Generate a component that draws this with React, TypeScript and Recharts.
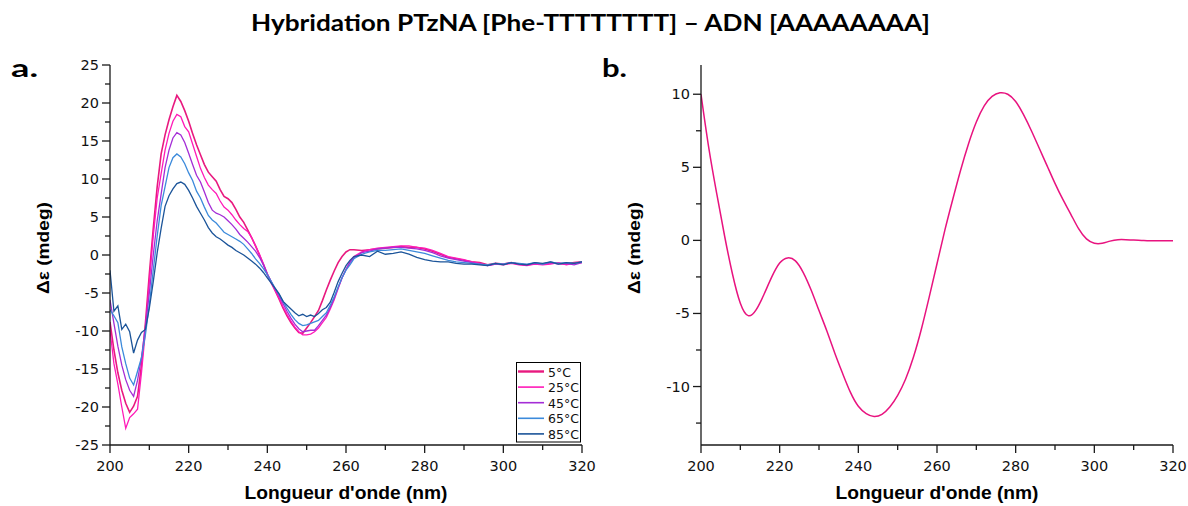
import { LineChart, Line, XAxis, YAxis, Legend } from 'recharts';

// wavelengths (nm) of the temperature scans: 1 nm up to 262, then 2 nm
const WAVELENGTHS = [
  200, 201, 202, 203, 204, 205, 206, 207, 208, 209,
  210, 211, 212, 213, 214, 215, 216, 217, 218, 219,
  220, 221, 222, 223, 224, 225, 226, 227, 228, 229,
  230, 231, 232, 233, 234, 235, 236, 237, 238, 239,
  240, 241, 242, 243, 244, 245, 246, 247, 248, 249,
  250, 251, 252, 253, 254, 255, 256, 257, 258, 259,
  260, 261, 262,
  264, 266, 268, 270, 272, 274, 276, 278, 280, 282,
  284, 286, 288, 290, 292, 294, 296, 298, 300, 302,
  304, 306, 308, 310, 312, 314, 316, 318, 320,
];

const CD_5C = [
  -8.8, -12.5, -15.5, -17.8, -19.5, -20.7, -19.9, -18.6, -14.5, -9.0,
  -2.5, 3.5, 9.0, 13.3, 15.8, 17.8, 19.5, 21.0, 20.2, 19.0,
  17.6, 16.0, 14.5, 13.2, 11.9, 10.9, 10.3, 9.7, 8.6, 7.7,
  7.4, 6.9, 6.0, 5.0, 4.3, 3.3, 2.3, 1.2, 0.0, -1.2,
  -2.5, -3.6, -4.7, -5.8, -7.0, -8.0, -8.9, -9.6, -10.2, -10.3,
  -9.6, -8.9, -8.1, -7.3, -6.0, -4.6, -3.3, -2.1, -1.0, -0.2,
  0.4, 0.7, 0.7,
  0.6, 0.7, 0.8, 0.9, 1.0, 1.1, 1.0, 1.0, 0.8, 0.5,
  0.1, -0.3, -0.5, -0.7, -0.9, -1.0, -1.3, -1.1, -1.2, -1.0,
  -1.2, -1.3, -1.1, -1.2, -1.0, -1.1, -1.2, -1.0, -0.9,
];

const CD_25C = [
  -9.9, -14.3, -17.0, -20.0, -22.8, -21.4, -20.9, -20.3, -15.5, -10.0,
  -3.5, 2.5, 7.5, 10.7, 13.8, 16.0, 17.6, 18.5, 18.2, 16.9,
  16.2, 14.6, 13.0, 11.4, 10.2, 9.2, 8.6, 8.1, 7.1, 6.3,
  5.9, 5.3, 4.6, 4.0, 3.5, 3.1, 2.3, 1.2, 0.1, -1.2,
  -2.6, -3.7, -4.7, -5.7, -6.8, -7.8, -8.7, -9.5, -10.1, -10.5,
  -10.5, -10.4, -10.1, -9.6, -8.9, -8.2, -7.1, -5.9, -4.4, -3.0,
  -1.9, -0.9, -0.2,
  0.4, 0.7, 0.9, 1.0, 1.1, 1.2, 1.2, 1.0, 0.9, 0.6,
  0.2, -0.2, -0.4, -0.6, -0.9, -1.1, -1.4, -1.2, -1.3, -1.1,
  -1.3, -1.4, -1.2, -1.3, -1.2, -1.0, -1.3, -1.1, -1.0,
];

const CD_45C = [
  -5.9, -9.0, -12.0, -14.5, -16.4, -17.8, -18.6, -16.5, -13.5, -9.5,
  -5.0, 0.0, 4.5, 8.0, 11.5, 13.8, 15.4, 16.1, 15.8, 14.8,
  13.4, 11.9, 10.5, 9.6, 8.3, 6.9, 5.9, 5.5, 5.3, 5.0,
  4.5, 4.0, 3.4, 2.7, 2.2, 1.7, 1.1, 0.5, -0.3, -1.3,
  -2.5, -3.5, -4.5, -5.4, -6.4, -7.4, -8.3, -9.1, -9.7, -10.1,
  -10.0, -9.9, -9.9, -9.3, -8.6, -7.9, -6.9, -5.7, -4.3, -3.0,
  -1.9, -1.0, -0.4,
  0.3, 0.5, 0.8, 0.9, 1.0, 1.0, 0.9, 0.8, 0.6, 0.3,
  -0.1, -0.4, -0.6, -0.8, -1.0, -1.2, -1.4, -1.2, -1.2, -1.0,
  -1.2, -1.3, -1.1, -1.2, -1.0, -1.2, -1.1, -1.3, -1.0,
];

const CD_65C = [
  -7.2, -8.0, -8.9, -12.1, -14.3, -16.2, -17.1, -15.3, -13.5, -10.5,
  -6.5, -2.0, 2.5, 6.5, 9.0, 11.5, 12.8, 13.3, 12.9, 12.0,
  10.8, 9.8, 8.4, 7.5, 6.3, 5.2, 4.6, 4.2, 3.6, 3.0,
  2.7, 2.4, 2.1, 1.8, 1.4, 0.8, 0.2, -0.5, -1.1, -1.8,
  -2.6, -3.5, -4.4, -5.2, -6.1, -7.0, -7.8, -8.5, -9.0, -9.3,
  -9.2, -9.0, -8.8, -8.6, -8.1, -7.6, -6.6, -5.5, -4.2, -3.0,
  -2.0, -1.3, -0.5,
  0.1, 0.4, 0.6, 0.6, 0.7, 0.8, 0.6, 0.4, 0.2, -0.1,
  -0.4, -0.7, -0.9, -1.0, -1.1, -1.2, -1.3, -1.1, -1.2, -1.0,
  -1.1, -1.2, -1.0, -1.2, -0.9, -1.1, -1.0, -1.1, -0.9,
];

const CD_85C = [
  -2.0, -7.4, -6.7, -9.8, -9.1, -10.1, -12.9, -11.2, -10.2, -9.8,
  -7.0, -3.5, 0.3, 3.5, 6.4, 7.8, 8.7, 9.4, 9.6, 9.3,
  8.5, 7.5, 6.4, 5.5, 4.6, 3.6, 2.9, 2.4, 2.1, 1.7,
  1.3, 1.0, 0.6, 0.3, 0.0, -0.4, -0.8, -1.2, -1.7, -2.3,
  -3.0, -3.7, -4.4, -5.1, -6.1, -6.6, -7.1, -7.6, -8.0, -7.8,
  -8.1, -7.9, -8.1, -7.7, -7.2, -6.9, -6.2, -4.9, -3.5, -2.4,
  -1.4, -0.7, -0.2,
  0.0, -0.2, 0.5, 0.1, 0.2, 0.4, 0.1, -0.3, -0.6, -0.8,
  -0.9, -0.9, -1.1, -1.2, -1.2, -1.3, -1.4, -1.1, -1.3, -1.0,
  -1.2, -1.3, -1.0, -1.1, -0.9, -1.2, -1.0, -1.1, -0.9,
];

// panel b: calculated spectrum
const WAVELENGTHS_B = [
  200, 202, 204, 206, 208, 210, 212, 214, 216, 218,
  220, 222, 224, 226, 228, 230, 232, 234, 236, 238,
  240, 242, 244, 246, 248, 250, 252, 254, 256, 258,
  260, 262, 264, 266, 268, 270, 272, 274, 276, 278,
  280, 282, 284, 286, 288, 290, 292, 294, 296, 298,
  300, 302, 304, 306, 308, 310, 312, 314, 316, 318, 320,
];
const CD_B = [
  10.0, 6.3, 3.2, 0.3, -2.3, -4.3, -5.15, -4.75, -3.7, -2.5,
  -1.55, -1.2, -1.4, -2.2, -3.4, -4.8, -6.2, -7.7, -9.1, -10.4,
  -11.35, -11.85, -12.05, -11.9, -11.4, -10.6, -9.5, -8.0, -6.1, -3.9,
  -1.6, 0.7, 2.8, 4.8, 6.6, 8.1, 9.2, 9.85, 10.1, 10.0,
  9.5, 8.6, 7.5, 6.3, 5.1, 3.9, 2.8, 1.8, 0.8, 0.1,
  -0.2, -0.2, -0.05, 0.05, 0.05, 0.02, 0.0, -0.02, -0.02, -0.02, -0.02,
];

const X_TICKS = [200, 210, 220, 230, 240, 250, 260, 270, 280, 290, 300, 310, 320];
const Y_TICKS_A = [
  -25, -22.5, -20, -17.5, -15, -12.5, -10, -7.5, -5, -2.5, 0,
  2.5, 5, 7.5, 10, 12.5, 15, 17.5, 20, 22.5, 25,
];
const Y_TICKS_B = [-12.5, -10, -7.5, -5, -2.5, 0, 2.5, 5, 7.5, 10];

const SERIES = [
  { key: 't5', name: '5°C', color: '#E8197F', width: 1.6, values: CD_5C },
  { key: 't25', name: '25°C', color: '#FF1AB8', width: 1.3, values: CD_25C },
  { key: 't45', name: '45°C', color: '#A42DD6', width: 1.3, values: CD_45C },
  { key: 't65', name: '65°C', color: '#3C8ADB', width: 1.3, values: CD_65C },
  { key: 't85', name: '85°C', color: '#1B5499', width: 1.3, values: CD_85C },
];

const dataA = WAVELENGTHS.map((wl, i) => {
  const row: Record<string, number> = { wl };
  SERIES.forEach((s) => { row[s.key] = s.values[i]; });
  return row;
});
const dataB = WAVELENGTHS_B.map((wl, i) => ({ wl, cd: CD_B[i] }));

const AXIS_DARK = '#1a1a1a';
const AXIS_GREY = '#555';
const TICK_FONT = { fontFamily: '"DejaVu Sans", sans-serif', fontSize: 14.5, fill: '#111' };
const TITLE_FONT = { fontFamily: '"Liberation Sans", Arial, sans-serif', fontWeight: 700, fill: '#000' };

const isMultiple = (v: number, step: number) => Math.abs(v / step - Math.round(v / step)) < 1e-6;

// custom ticks: axes use tickSize 0, so (x, y) sits on the axis line
const BottomTick = ({ x, y, payload }: any) => {
  const major = isMultiple(payload.value, 20);
  return (
    <g>
      <line x1={x} x2={x} y1={y} y2={y + (major ? 8 : 5)} stroke={AXIS_DARK} strokeWidth={1.3} />
      {major && (
        <text x={x} y={y + 26} textAnchor="middle" {...TICK_FONT}>{payload.value}</text>
      )}
    </g>
  );
};

const TopTick = ({ x, y, payload }: any) => {
  const major = isMultiple(payload.value, 20);
  return <line x1={x} x2={x} y1={y} y2={y + (major ? 7 : 4)} stroke={AXIS_GREY} strokeWidth={1.2} />;
};

const LeftTick = ({ x, y, payload }: any) => {
  const major = isMultiple(payload.value, 5);
  return (
    <g>
      <line x1={x} x2={x - (major ? 8 : 5)} y1={y} y2={y} stroke={AXIS_DARK} strokeWidth={1.3} />
      {major && (
        <text x={x - 11} y={y + 5} textAnchor="end" {...TICK_FONT}>{payload.value}</text>
      )}
    </g>
  );
};

const RightTick = ({ x, y, payload }: any) => {
  const major = isMultiple(payload.value, 5);
  return <line x1={x} x2={x - (major ? 7 : 6)} y1={y} y2={y} stroke={AXIS_GREY} strokeWidth={1.2} />;
};

const XTitle = ({ viewBox }: any) => (
  <text
    x={viewBox.x + viewBox.width / 2}
    y={viewBox.y + 54}
    textAnchor="middle"
    fontSize={18}
    textLength={203}
    lengthAdjust="spacingAndGlyphs"
    {...TITLE_FONT}
  >
    Longueur d'onde (nm)
  </text>
);

const YTitle = ({ viewBox }: any) => {
  const cx = viewBox.x + 9;
  const cy = viewBox.y + viewBox.height / 2 - 7;
  return (
    <text
      x={cx}
      y={cy}
      transform={`rotate(-90 ${cx} ${cy})`}
      textAnchor="middle"
      fontSize={17}
      textLength={92}
      lengthAdjust="spacingAndGlyphs"
      {...TITLE_FONT}
    >
      Δε (mdeg)
    </text>
  );
};

const LegendBox = ({ payload }: any) => {
  const items = [...(payload || [])].sort(
    (a: any, b: any) =>
      SERIES.findIndex((s) => s.name === a.value) - SERIES.findIndex((s) => s.name === b.value)
  );
  return (
    <svg width={66} height={82} style={{ display: 'block' }}>
      <rect x={0.5} y={0.5} width={64} height={79.5} fill="#fff" stroke="#000" strokeWidth={1} />
      {items.map((p: any, i: number) => {
        const cy = 9.5 + i * 15.6;
        const s = SERIES.find((d) => d.name === p.value);
        return (
          <g key={p.value}>
            <line x1={2} x2={28} y1={cy} y2={cy} stroke={p.color} strokeWidth={s && s.key === 't5' ? 2.4 : 1.6} />
            <text x={32} y={cy + 5} fontFamily='"DejaVu Sans", sans-serif' fontSize={12.5} fill="#111">
              {p.value}
            </text>
          </g>
        );
      })}
    </svg>
  );
};

const axisLineDark = { stroke: AXIS_DARK, strokeWidth: 1.3 };
const axisLineGrey = { stroke: AXIS_GREY, strokeWidth: 1.6 };

export default function App() {
  return (
    <div style={{ position: 'absolute', left: 0, top: 0, width: 1188, height: 506, background: '#fff', overflow: 'hidden' }}>
      {/* panel a: temperature series */}
      <div style={{ position: 'absolute', left: 0, top: 40 }}>
        <LineChart width={604} height={466} data={dataA} margin={{ top: 25, right: 22, bottom: 1, left: 40 }}>
          <XAxis
            dataKey="wl" type="number" domain={[200, 320]} allowDataOverflow
            ticks={X_TICKS} interval={0} tick={BottomTick} tickLine={false} tickSize={0} tickMargin={0}
            height={60} axisLine={axisLineDark} label={XTitle}
          />
          <XAxis
            xAxisId="top" orientation="top" type="number" domain={[200, 320]} allowDataOverflow
            ticks={X_TICKS} interval={0} tick={TopTick} tickLine={false} tickSize={0} tickMargin={0}
            height={0} axisLine={axisLineGrey}
          />
          <YAxis
            type="number" domain={[-25, 25]} allowDataOverflow
            ticks={Y_TICKS_A} interval={0} tick={LeftTick} tickLine={false} tickSize={0} tickMargin={0}
            width={70} axisLine={axisLineDark} label={YTitle}
          />
          <YAxis
            yAxisId="right" orientation="right" type="number" domain={[-25, 25]} allowDataOverflow
            ticks={Y_TICKS_A} interval={0} tick={RightTick} tickLine={false} tickSize={0} tickMargin={0}
            width={0} axisLine={axisLineGrey}
          />
          {SERIES.map((s) => (
            <Line
              key={s.key} type="linear" dataKey={s.key} name={s.name}
              stroke={s.color} strokeWidth={s.width} dot={false} activeDot={false}
              isAnimationActive={false}
            />
          ))}
          <Legend
            layout="horizontal" verticalAlign="middle" align="center"
            content={LegendBox}
            wrapperStyle={{ left: 516, top: 322, width: 66, height: 82 }}
          />
        </LineChart>
      </div>

      {/* panel b */}
      <div style={{ position: 'absolute', left: 590, top: 40 }}>
        <LineChart width={598} height={466} data={dataB} margin={{ top: 25, right: 15, bottom: 1, left: 41 }}>
          <XAxis
            dataKey="wl" type="number" domain={[200, 320]} allowDataOverflow
            ticks={X_TICKS} interval={0} tick={BottomTick} tickLine={false} tickSize={0} tickMargin={0}
            height={60} axisLine={axisLineDark} label={XTitle}
          />
          <XAxis
            xAxisId="top" orientation="top" type="number" domain={[200, 320]} allowDataOverflow
            ticks={X_TICKS} interval={0} tick={TopTick} tickLine={false} tickSize={0} tickMargin={0}
            height={0} axisLine={axisLineGrey}
          />
          <YAxis
            type="number" domain={[-14, 12]} allowDataOverflow
            ticks={Y_TICKS_B} interval={0} tick={LeftTick} tickLine={false} tickSize={0} tickMargin={0}
            width={70} axisLine={axisLineDark} label={YTitle}
          />
          <YAxis
            yAxisId="right" orientation="right" type="number" domain={[-14, 12]} allowDataOverflow
            ticks={Y_TICKS_B} interval={0} tick={RightTick} tickLine={false} tickSize={0} tickMargin={0}
            width={0} axisLine={axisLineGrey}
          />
          <Line
            type="natural" dataKey="cd" name="calc" stroke="#E8137F" strokeWidth={1.5}
            dot={false} activeDot={false} isAnimationActive={false}
          />
        </LineChart>
      </div>

      {/* title and panel letters */}
      <svg width={1188} height={506} style={{ position: 'absolute', left: 0, top: 0, pointerEvents: 'none' }}>
        <text
          x={590.5} y={31} textAnchor="middle" fontFamily="Lato, sans-serif" fontWeight={700}
          fontSize={22} textLength={679} lengthAdjust="spacingAndGlyphs" fill="#000"
        >
          Hybridation PTzNA [Phe-TTTTTTTT] – ADN [AAAAAAAA]
        </text>
        <text x={11} y={77} fontFamily="Lato, sans-serif" fontWeight={700} fontSize={24} textLength={27} lengthAdjust="spacingAndGlyphs" fill="#000">a.</text>
        <text x={602} y={77} fontFamily="Lato, sans-serif" fontWeight={700} fontSize={24} textLength={25} lengthAdjust="spacingAndGlyphs" fill="#000">b.</text>
      </svg>
    </div>
  );
}
